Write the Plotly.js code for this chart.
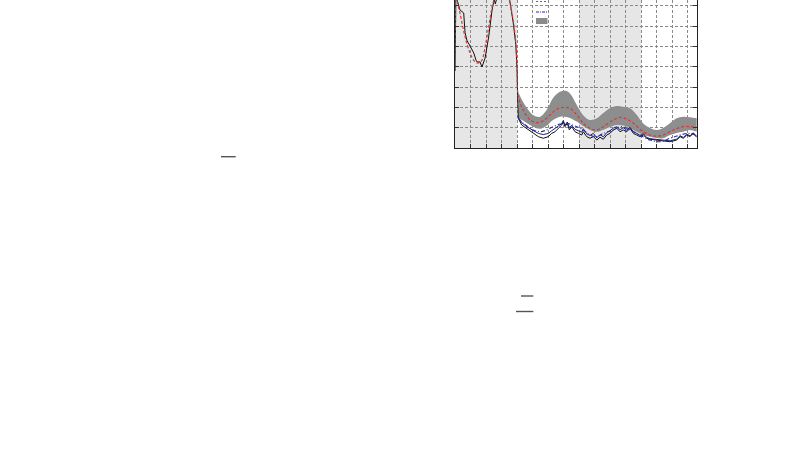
<!DOCTYPE html>
<html><head><meta charset="utf-8">
<script src="https://cdn.plot.ly/plotly-3.0.1.min.js"></script>
<style>html,body{margin:0;padding:0;background:#fff}#c{width:800px;height:450px}</style>
</head><body><div id="c"></div>
<script>
// ---- data (axis units: x one grid cell per unit, y one grid cell per unit) ----
const shadedSpans = [[0, 4], [8, 12]];

const blackX = [0, 0.02, 0.06, 0.13, 0.32, 0.56, 0.65, 0.77, 0.97, 1.1, 1.21, 1.35, 1.42, 1.61, 1.74, 1.94, 2.17, 2.39, 2.52, 2.6, 2.7, 3.0, 3.25, 3.5, 3.75, 3.92, 4.0, 4.04,
  4.08, 4.3, 4.62, 5.05, 5.37, 5.69, 6.02, 6.23, 6.45, 6.66, 6.88, 6.98, 7.09, 7.24, 7.37, 7.52, 7.74, 7.95, 8.17, 8.27, 8.49, 8.7, 8.92, 9.14, 9.35, 9.56, 9.78, 9.99, 10.21, 10.43, 10.64, 10.85, 11.07, 11.28, 11.5, 11.72, 11.93, 12.14, 12.36, 12.57, 13.0, 13.43, 13.86, 14.29, 14.51, 14.72, 14.94, 15.15, 15.36, 15.58];
const blackY = [3.8, 6.5, 7.6, 7.3, 6.8, 6.65, 5.67, 5.3, 4.98, 4.83, 4.68, 4.33, 4.24, 4.24, 3.99, 4.43, 5.47, 6.8, 7.3, 7.1, 7.4, 8.0, 8.3, 7.4, 6.2, 5.1, 3.9, 2.5,
  1.46, 1.13, 0.97, 0.72, 0.56, 0.48, 0.56, 0.72, 0.8, 0.97, 1.13, 1.3, 1.05, 1.22, 0.89, 1.05, 0.8, 0.72, 0.64, 0.8, 0.56, 0.48, 0.56, 0.39, 0.53, 0.43, 0.64, 0.72, 0.89, 0.97, 0.8, 0.89, 0.8, 0.97, 0.72, 0.64, 0.56, 0.64, 0.48, 0.43, 0.39, 0.36, 0.31, 0.39, 0.56, 0.48, 0.64, 0.56, 0.72, 0.53];

const navyX = [4.08, 4.3, 4.62, 5.05, 5.37, 5.69, 6.02, 6.23, 6.45, 6.66, 6.88, 6.98, 7.09, 7.24, 7.37, 7.52, 7.74, 7.95, 8.17, 8.27, 8.49, 8.7, 8.92, 9.14, 9.35, 9.56, 9.78, 9.99, 10.21, 10.43, 10.64, 10.85, 11.07, 11.28, 11.5, 11.72, 11.93, 12.14, 12.36, 12.57, 13.0, 13.43, 13.86, 14.29, 14.51, 14.72, 14.94, 15.15, 15.36, 15.58];
const navyY = [1.5, 1.25, 1.05, 0.85, 0.72, 0.66, 0.72, 0.85, 0.95, 1.08, 1.2, 1.35, 1.12, 1.28, 1.0, 1.12, 0.92, 0.85, 0.78, 0.95, 0.7, 0.62, 0.72, 0.5, 0.66, 0.55, 0.76, 0.85, 0.98, 1.05, 0.9, 1.0, 0.88, 1.02, 0.8, 0.72, 0.62, 0.7, 0.52, 0.46, 0.42, 0.38, 0.35, 0.44, 0.6, 0.52, 0.68, 0.6, 0.75, 0.58];

const redX = [0, 0.02, 0.06, 0.13, 0.32, 0.65, 0.97, 1.29, 1.53, 1.74, 1.94, 2.17, 2.39, 2.52, 2.75, 3.0, 3.25, 3.5, 3.75, 3.92, 4.0,
  4.08, 4.4, 4.84, 5.27, 5.69, 6.13, 6.56, 6.98, 7.41, 7.85, 8.27, 8.7, 9.14, 9.56, 10.21, 10.64, 11.07, 11.5, 12.14, 12.79, 13.43, 14.07, 14.72, 15.58];
const redY = [3.8, 6.5, 7.6, 7.3, 6.65, 5.47, 4.68, 4.24, 4.19, 4.33, 4.98, 5.96, 6.95, 7.3, 7.9, 8.2, 8.1, 7.3, 6.3, 5.2, 4.0,
  2.53, 1.87, 1.38, 1.25, 1.34, 1.63, 1.91, 2.0, 1.96, 1.63, 1.22, 0.97, 0.89, 1.05, 1.38, 1.51, 1.43, 1.22, 0.8, 0.59, 0.64, 0.89, 1.05, 1.02];

const blueX = [4.08, 4.4, 5.05, 5.48, 5.91, 6.34, 6.77, 7.09, 7.41, 7.85, 8.27, 8.7, 9.14, 9.56, 10.21, 10.64, 11.07, 11.72, 12.57, 13.22, 13.86, 14.51, 15.15, 15.58];
const blueY = [1.46, 1.22, 0.89, 0.8, 0.89, 1.05, 1.18, 1.22, 1.18, 1.05, 0.89, 0.64, 0.56, 0.72, 0.89, 1.05, 0.97, 0.72, 0.39, 0.31, 0.48, 0.64, 0.72, 0.59];

const bandX = [4.08, 4.38, 5.03, 5.48, 5.91, 6.32, 6.77, 7.09, 7.41, 7.85, 8.25, 8.7, 9.14, 9.54, 9.99, 10.43, 10.83, 11.28, 11.72, 12.12, 12.57, 13.0, 13.41, 13.86, 14.29, 14.7, 15.15, 15.58];
const bandUpper = [2.76, 2.28, 1.63, 1.54, 1.87, 2.46, 2.77, 2.82, 2.69, 2.12, 1.63, 1.38, 1.46, 1.71, 1.96, 2.07, 2.03, 1.96, 1.63, 1.22, 0.99, 0.89, 0.99, 1.22, 1.46, 1.54, 1.51, 1.46];
const bandLower = [1.48, 1.35, 1.05, 0.95, 1.1, 1.38, 1.54, 1.54, 1.48, 1.3, 1.08, 0.89, 0.8, 0.89, 1.03, 1.13, 1.11, 0.99, 0.8, 0.67, 0.56, 0.49, 0.48, 0.64, 0.74, 0.8, 0.89, 0.8];

const xRange = [0, 15.6];
const yRange = [0, 7.29];

// ---- traces ----
const traces = [
  {x: bandX, y: bandLower, mode: 'lines', line: {width: 0, shape: 'spline'}, hoverinfo: 'skip', showlegend: false},
  {x: bandX, y: bandUpper, mode: 'lines', fill: 'tonexty', fillcolor: '#8e8e8e', line: {width: 0, shape: 'spline'}, showlegend: false},
  {x: blackX, y: blackY, mode: 'lines', line: {color: '#111111', width: 1}, showlegend: false},
  {x: navyX, y: navyY, mode: 'lines', line: {color: '#1b1f6e', width: 1}, showlegend: false},
  {x: blueX, y: blueY, mode: 'lines', line: {color: '#2a2ab0', width: 1.1, dash: '4px,2px,1px,2px', shape: 'spline'}, showlegend: false},
  {x: redX, y: redY, mode: 'lines', line: {color: '#d33a3a', width: 1.2, dash: '3px,2px', shape: 'spline'}, showlegend: false}
];

// ---- shapes ----
const shapes = shadedSpans.map(s => ({type: 'rect', xref: 'x', yref: 'paper', x0: s[0], x1: s[1], y0: 0, y1: 1,
  fillcolor: '#e6e6e6', line: {width: 0}, layer: 'below'}));

// helper: pixel -> paper (plot area 455..697 x, 0..148 y)
const px = v => (v - 455) / 242;
const py = v => (148 - v) / 148;
// legend symbols (legend text not shown in the reference)
shapes.push({type: 'line', xref: 'paper', yref: 'paper', x0: px(536), x1: px(547), y0: py(1.5), y1: py(1.5), line: {color: '#d33a3a', width: 1.2, dash: '2px,2px'}});
shapes.push({type: 'line', xref: 'paper', yref: 'paper', x0: px(536), x1: px(547), y0: py(12), y1: py(12), line: {color: '#2a2ab0', width: 1.1, dash: '3px,1px,1px,1px'}});
shapes.push({type: 'rect', xref: 'paper', yref: 'paper', x0: px(536), x1: px(547.5), y0: py(24), y1: py(18), fillcolor: '#8a8a8a', line: {width: 0}});
// stray rule segments outside the plot
[[221, 235.7, 156.7], [521, 533.3, 296], [516, 533.3, 311.5]].forEach(s => {
  shapes.push({type: 'line', xref: 'paper', yref: 'paper', x0: px(s[0]), x1: px(s[1]), y0: py(s[2]), y1: py(s[2]), line: {color: '#555555', width: 1.4}});
});

const gridStyle = {showgrid: true, gridcolor: '#8a8a8a', gridwidth: 1, griddash: '3px,2px', zeroline: false, showticklabels: false,
  ticks: 'inside', ticklen: 4, tickcolor: '#333', dtick: 1, tick0: 0, showline: true, linecolor: '#222', linewidth: 1};

const layout = {
  width: 800, height: 450,
  margin: {l: 455, r: 103, t: 0, b: 302, pad: 0},
  paper_bgcolor: '#ffffff', plot_bgcolor: '#ffffff',
  xaxis: Object.assign({}, gridStyle, {range: xRange, mirror: false}),
  yaxis: Object.assign({}, gridStyle, {range: yRange, mirror: 'ticks'}),
  shapes: shapes,
  showlegend: false
};

Plotly.newPlot('c', traces, layout, {staticPlot: true, displayModeBar: false});
</script></body></html>
